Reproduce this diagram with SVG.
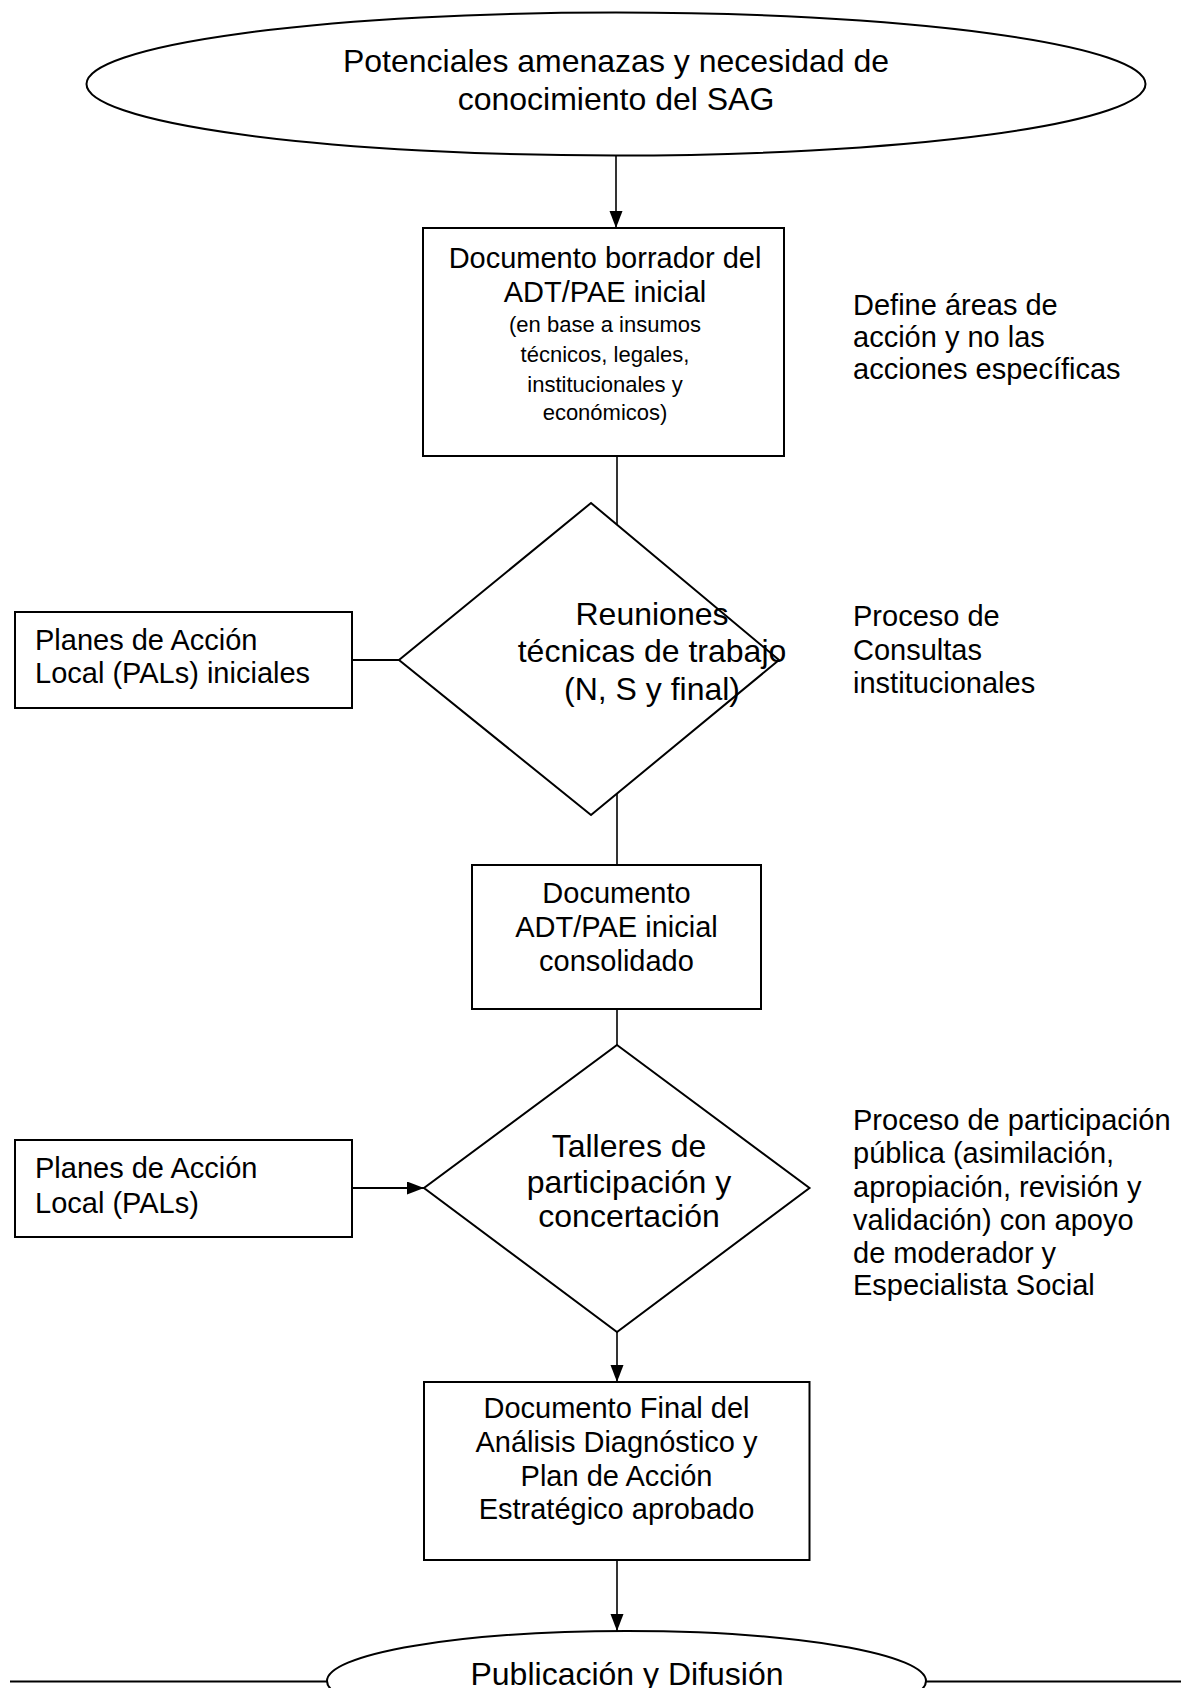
<svg xmlns="http://www.w3.org/2000/svg" width="1181" height="1688" viewBox="0 0 1181 1688">
<style>
.shape{fill:#fff;stroke:#000;stroke-width:2}
.conn{fill:none;stroke:#000;stroke-width:1.6}
.t{font-family:"Liberation Sans",Arial,sans-serif;fill:#000}
.c{text-anchor:middle}
.s29{font-size:29px}
.s32{font-size:32px}
.s22{font-size:22px}
</style>
<defs>
<marker id="arr" markerUnits="userSpaceOnUse" markerWidth="18" markerHeight="14" refX="17" refY="6.5" orient="auto">
<path d="M0,0 L17,6.5 L0,13 Z" fill="#000"/>
</marker>
</defs>
<rect width="1181" height="1688" fill="#fff"/>
<g id="connectors">
<line class="conn" x1="616" y1="156" x2="616" y2="228" marker-end="url(#arr)"/>
<line class="conn" x1="617" y1="456" x2="617" y2="865"/>
<line class="conn" x1="352" y1="660" x2="399" y2="660" style="stroke-width:2"/>
<line class="conn" x1="617" y1="1009" x2="617" y2="1045"/>
<line class="conn" x1="352" y1="1188" x2="424" y2="1188" style="stroke-width:2" marker-end="url(#arr)"/>
<line class="conn" x1="617" y1="1332" x2="617" y2="1382" marker-end="url(#arr)"/>
<line class="conn" x1="617" y1="1560" x2="617" y2="1631" marker-end="url(#arr)"/>
<line class="conn" x1="10" y1="1681.5" x2="327" y2="1681.5" style="stroke-width:2"/>
<line class="conn" x1="926" y1="1681.5" x2="1181" y2="1681.5" style="stroke-width:2"/>
</g>
<g id="start">
<ellipse class="shape" cx="616" cy="84" rx="529.5" ry="71.5"/>
<text class="t s32 c" x="616" y="72">Potenciales amenazas y necesidad de</text>
<text class="t s32 c" x="616" y="110">conocimiento del SAG</text>
</g>
<g id="borrador">
<rect class="shape" x="423" y="228" width="361" height="228"/>
<text class="t s29 c" x="605" y="268">Documento borrador del</text>
<text class="t s29 c" x="605" y="301.5">ADT/PAE inicial</text>
<text class="t s22 c" x="605" y="331.5">(en base a insumos</text>
<text class="t s22 c" x="605" y="361.5">técnicos, legales,</text>
<text class="t s22 c" x="605" y="391.5">institucionales y</text>
<text class="t s22 c" x="605" y="420">económicos)</text>
</g>
<g id="note1">
<text class="t s29" x="853" y="315">Define áreas de</text>
<text class="t s29" x="853" y="347">acción y no las</text>
<text class="t s29" x="853" y="379">acciones específicas</text>
</g>
<g id="pals1">
<rect class="shape" x="15" y="612" width="337" height="96"/>
<text class="t s29" x="35" y="650">Planes de Acción</text>
<text class="t s29" x="35" y="683">Local (PALs) iniciales</text>
</g>
<g id="reuniones">
<polygon class="shape" points="591,503 779,660 591,815 399,660"/>
<text class="t s32 c" x="652" y="625">Reuniones</text>
<text class="t s32 c" x="652" y="662">técnicas de trabajo</text>
<text class="t s32 c" x="652" y="700">(N, S y final)</text>
</g>
<g id="note2">
<text class="t s29" x="853" y="626">Proceso de</text>
<text class="t s29" x="853" y="659.5">Consultas</text>
<text class="t s29" x="853" y="693">institucionales</text>
</g>
<g id="consolidado">
<rect class="shape" x="472" y="865" width="289" height="144"/>
<text class="t s29 c" x="616.5" y="902.5">Documento</text>
<text class="t s29 c" x="616.5" y="937">ADT/PAE inicial</text>
<text class="t s29 c" x="616.5" y="970.5">consolidado</text>
</g>
<g id="pals2">
<rect class="shape" x="15" y="1140" width="337" height="97"/>
<text class="t s29" x="35" y="1178">Planes de Acción</text>
<text class="t s29" x="35" y="1213">Local (PALs)</text>
</g>
<g id="talleres">
<polygon class="shape" points="617,1045 809.5,1188 617,1332 424,1188"/>
<text class="t s32 c" x="629" y="1157">Talleres de</text>
<text class="t s32 c" x="629" y="1193">participación y</text>
<text class="t s32 c" x="629" y="1227">concertación</text>
</g>
<g id="note3">
<text class="t s29" x="853" y="1130">Proceso de participación</text>
<text class="t s29" x="853" y="1163">pública (asimilación,</text>
<text class="t s29" x="853" y="1196.5">apropiación, revisión y</text>
<text class="t s29" x="853" y="1230">validación) con apoyo</text>
<text class="t s29" x="853" y="1263">de moderador y</text>
<text class="t s29" x="853" y="1295">Especialista Social</text>
</g>
<g id="final">
<rect class="shape" x="424" y="1382" width="385.5" height="178"/>
<text class="t s29 c" x="616.5" y="1418">Documento Final del</text>
<text class="t s29 c" x="616.5" y="1452">Análisis Diagnóstico y</text>
<text class="t s29 c" x="616.5" y="1486">Plan de Acción</text>
<text class="t s29 c" x="616.5" y="1519">Estratégico aprobado</text>
</g>
<g id="publicacion">
<ellipse class="shape" cx="626.5" cy="1681" rx="299.5" ry="50"/>
<text class="t s32 c" x="627" y="1685">Publicación y Difusión</text>
</g>
</svg>
